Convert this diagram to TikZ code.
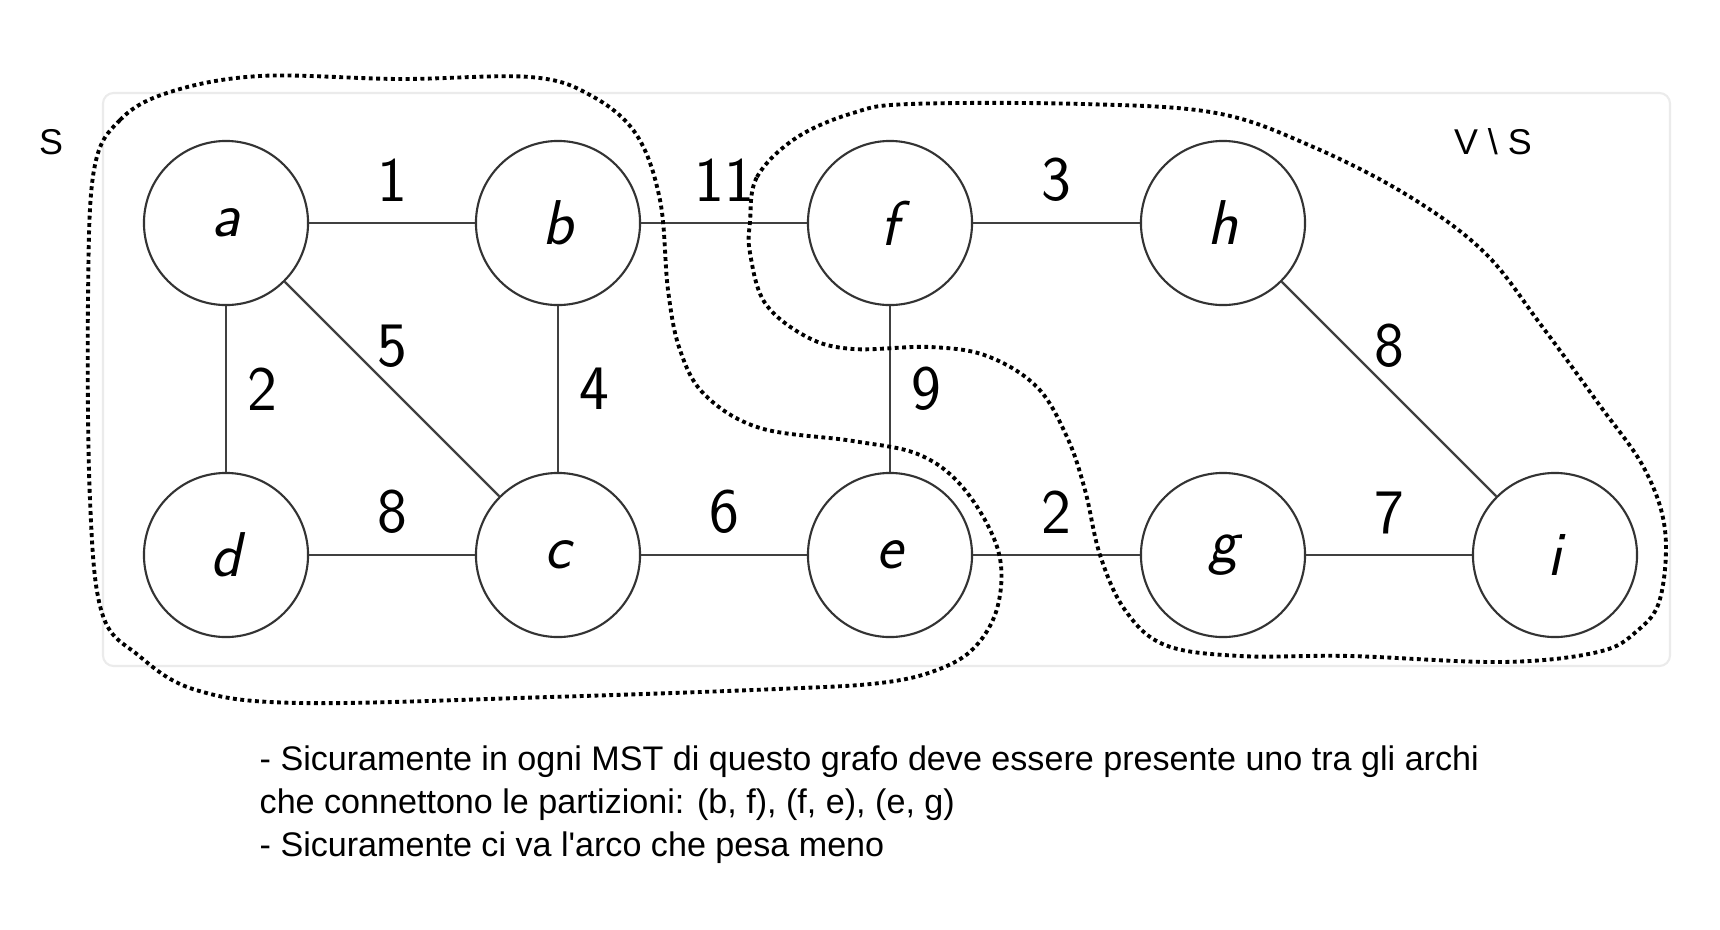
\documentclass[tikz,border=0pt]{standalone}
\usepackage{fontspec}
\newfontfamily\notefont{Liberation Sans}
\usetikzlibrary{positioning}

\begin{document}
\begin{tikzpicture}[x=0.01cm, y=-0.01cm,
	vertex/.style={draw=black!80, circle, line width=0.6pt, minimum size=1.64cm, inner sep=0pt, font=\fontsize{18}{20}\selectfont\sffamily\itshape},
	link/.style={draw=black!75, line width=0.7pt},
	weight/.style={inner sep=0pt, font=\fontsize{18}{20}\selectfont\sffamily},
	partition/.style={draw=black, line width=1.1pt, dash pattern=on 1.1pt off 1pt},
	setlabel/.style={inner sep=0pt, font=\notefont\fontsize{10.2}{12}\selectfont},
	note/.style={inner sep=0pt, anchor=base west, font=\notefont\fontsize{9.7}{12}\selectfont}]
	\useasboundingbox (0,0) rectangle (1720,930);
	\draw[draw=black!8, fill=white, line width=0.6pt, rounded corners=3pt] (103,93) rectangle (1670,666);

	\node[vertex] (a) at (226,223) {a};
	\node[vertex] (b) at (558,223) {b};
	\node[vertex] (f) at (890,223) {f};
	\node[vertex] (h) at (1223,223) {h};
	\node[vertex] (d) at (226,555) {d};
	\node[vertex] (c) at (558,555) {c};
	\node[vertex] (e) at (890,555) {e};
	\node[vertex] (g) at (1223,555) {g};
	\node[vertex] (i) at (1555,555) {i};

	\draw[link] (a) -- node[weight, above=2mm] {1} (b);
	\draw[link] (b) -- node[weight, above=2mm] {11} (f);
	\draw[link] (f) -- node[weight, above=2mm] {3} (h);
	\draw[link] (d) -- node[weight, above=2mm] {8} (c);
	\draw[link] (c) -- node[weight, above=2mm] {6} (e);
	\draw[link] (e) -- node[weight, above=2mm] {2} (g);
	\draw[link] (g) -- node[weight, above=2mm] {7} (i);
	\draw[link] (a) -- node[weight, right=2mm] {2} (d);
	\draw[link] (b) -- node[weight, right=2mm] {4} (c);
	\draw[link] (f) -- node[weight, right=2mm] {9} (e);
	\draw[link] (a) -- node[weight, above=2mm] {5} (c);
	\draw[link] (h) -- node[weight, above=2mm] {8} (i);

	\draw[partition] plot[smooth cycle, tension=0.6] coordinates {(94,170) (120,120) (170,92) (260,76) (400,79) (530,77) (590,95) (636,134) (660,200) (668,290) (680,350) (705,395) (760,428) (853,441) (920,455) (965,490) (998,550) (998,605) (975,647) (937,670) (880,683) (777,689) (550,697) (300,703) (196,690) (138,655) (102,613) (90,500) (88,300)};
	\draw[partition] plot[smooth cycle, tension=0.6] coordinates {(750,222) (757,177) (796,138) (853,113) (910,104) (1083,104) (1216,113) (1311,146) (1407,195) (1484,252) (1541,325) (1598,403) (1644,468) (1665,530) (1660,599) (1637,631) (1598,652) (1503,662) (1350,656) (1240,656) (1165,645) (1125,610) (1100,555) (1085,490) (1067,437) (1037,387) (987,356) (930,347) (853,349) (807,337) (765,303) (750,253)};

	\node[setlabel] (s) at (51,142) {S};
	\node[setlabel] (vs) at (1493,142) {V \textbackslash{} S};

	\node[note] (line1) at (259,770) {- Sicuramente in ogni MST di questo grafo deve essere presente uno tra gli archi};
	\node[note] (line2) at (259,813) {che connettono le partizioni: (b, f), (f, e), (e, g)};
	\node[note] (line3) at (259,856) {- Sicuramente ci va l\textquotesingle arco che pesa meno};
\end{tikzpicture}
\end{document}
